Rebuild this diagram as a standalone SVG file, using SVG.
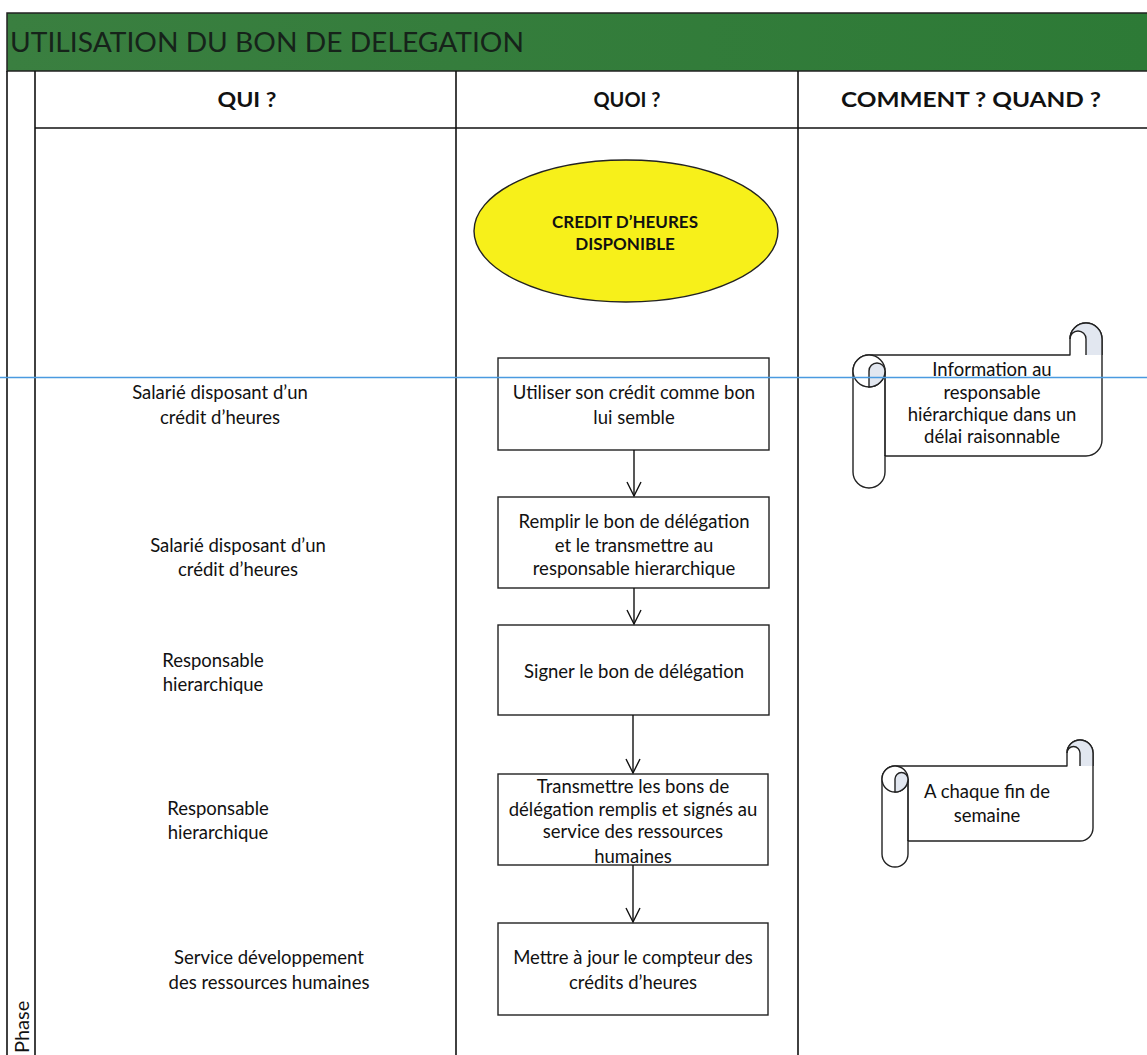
<svg xmlns="http://www.w3.org/2000/svg" width="1147" height="1055" viewBox="0 0 1147 1055">
<defs>
<linearGradient id="hdr" x1="0" y1="0" x2="1" y2="0">
<stop offset="0" stop-color="#3a7f40"/>
<stop offset="1" stop-color="#2d7a36"/>
</linearGradient>
<marker id="arr" viewBox="-16 -8 18 16" markerWidth="18" markerHeight="16" refX="0" refY="0" orient="auto" markerUnits="userSpaceOnUse">
<path d="M-14,-7 L0,0 L-14,7" fill="none" stroke="#111" stroke-width="1.4"/>
</marker>
</defs>
<style>
.t{font-family:Lato,"Open Sans","Liberation Sans",sans-serif;font-size:18.5px;fill:#111;text-anchor:middle}
.b{font-family:Lato,"Open Sans","Liberation Sans",sans-serif;font-weight:bold;fill:#111;text-anchor:middle}
.ln{stroke:#111;stroke-width:1.6;fill:none}
.box{fill:#fff;stroke:#222;stroke-width:1.4}
.scr{fill:#fff;stroke:#222;stroke-width:1.4;stroke-linejoin:round}
.shd{fill:#e2e7f0;stroke:#222;stroke-width:1.4}
.con{stroke:#111;stroke-width:1.4;fill:none;marker-end:url(#arr)}
</style>
<rect width="1147" height="1055" fill="#fff"/>

<g id="header">
<rect x="7" y="13" width="1145" height="58" fill="url(#hdr)" stroke="#222" stroke-width="1.5"/>
<text x="10" y="52" font-family="Lato,'Open Sans','Liberation Sans',sans-serif" font-size="27" fill="#16231a" textLength="514" lengthAdjust="spacingAndGlyphs">UTILISATION DU BON DE DELEGATION</text>
</g>

<g id="grid">
<line class="ln" x1="7" y1="71" x2="7" y2="1055"/>
<line class="ln" x1="35" y1="71" x2="35" y2="1055"/>
<line class="ln" x1="456" y1="71" x2="456" y2="1055"/>
<line class="ln" x1="798" y1="71" x2="798" y2="1055"/>
<line class="ln" x1="35" y1="128" x2="1147" y2="128"/>
<text class="b" x="247" y="107" font-size="20" textLength="59" lengthAdjust="spacingAndGlyphs">QUI ?</text>
<text class="b" x="627" y="107" font-size="20" textLength="67" lengthAdjust="spacingAndGlyphs">QUOI ?</text>
<text class="b" x="971" y="107" font-size="20" textLength="260" lengthAdjust="spacingAndGlyphs">COMMENT ? QUAND ?</text>
<text x="29" y="1053" font-family="Lato,'Open Sans','Liberation Sans',sans-serif" font-size="20" fill="#111" transform="rotate(-90 29 1053)">Phase</text>
</g>

<g id="who">
<text class="t" x="220" y="399">Salarié disposant d’un</text>
<text class="t" x="220" y="424">crédit d’heures</text>
<text class="t" x="238" y="552">Salarié disposant d’un</text>
<text class="t" x="238" y="576">crédit d’heures</text>
<text class="t" x="213" y="667">Responsable</text>
<text class="t" x="213" y="691">hierarchique</text>
<text class="t" x="218" y="815">Responsable</text>
<text class="t" x="218" y="839">hierarchique</text>
<text class="t" x="269" y="964">Service développement</text>
<text class="t" x="269" y="989">des ressources humaines</text>
</g>

<g id="start">
<ellipse cx="626" cy="231" rx="152" ry="71" fill="#f7f01a" stroke="#222" stroke-width="1.4"/>
<text class="b" x="625" y="228" font-size="17">CREDIT D’HEURES</text>
<text class="b" x="625" y="250" font-size="17">DISPONIBLE</text>
</g>

<g id="step1">
<rect class="box" x="498" y="358" width="271" height="92"/>
<text class="t" x="634" y="399">Utiliser son crédit comme bon</text>
<text class="t" x="634" y="424">lui semble</text>
</g>
<g id="step2">
<rect class="box" x="498" y="497" width="271" height="91"/>
<text class="t" x="634" y="528">Remplir le bon de délégation</text>
<text class="t" x="634" y="552">et le transmettre au</text>
<text class="t" x="634" y="575">responsable hierarchique</text>
</g>
<g id="step3">
<rect class="box" x="498" y="625" width="271" height="90"/>
<text class="t" x="634" y="678">Signer le bon de délégation</text>
</g>
<g id="step4">
<rect class="box" x="498" y="774" width="270" height="91"/>
<text class="t" x="633" y="793">Transmettre les bons de</text>
<text class="t" x="633" y="816">délégation remplis et signés au</text>
<text class="t" x="633" y="838">service des ressources</text>
<text class="t" x="633" y="863">humaines</text>
</g>
<g id="step5">
<rect class="box" x="498" y="923" width="270" height="92"/>
<text class="t" x="633" y="964">Mettre à jour le compteur des</text>
<text class="t" x="633" y="989">crédits d’heures</text>
</g>

<g id="connectors">
<line class="con" x1="634" y1="450" x2="634" y2="496"/>
<line class="con" x1="634" y1="588" x2="634" y2="624"/>
<line class="con" x1="633" y1="715" x2="633" y2="773"/>
<line class="con" x1="633" y1="865" x2="633" y2="922"/>
</g>

<g id="note1">
<path class="scr" d="M853,371 A16,16 0 0 1 869,355 L1070,355 L1070,339 A16,16 0 0 1 1102,339 L1102,440 A16,16 0 0 1 1086,456 L885,456 L885,472 A16,16 0 0 1 853,472 Z"/>
<line class="ln" x1="885" y1="371" x2="885" y2="456" stroke-width="1.4"/>
<circle cx="869" cy="371" r="16" fill="#fff" stroke="#222" stroke-width="1.4"/>
<path class="shd" d="M869,387 L869,371 A8,8 0 0 1 885,371 A16,16 0 0 1 869,387 Z"/>
<path class="shd" d="M1086,355 L1086,339 A8,8 0 0 0 1070,339 A16,16 0 0 1 1102,339 L1102,355"/>
<text class="t" x="992" y="376">Information au</text>
<text class="t" x="992" y="399">responsable</text>
<text class="t" x="992" y="421">hiérarchique dans un</text>
<text class="t" x="992" y="443">délai raisonnable</text>
</g>

<g id="note2">
<path class="scr" d="M882,779 A13,13 0 0 1 895,766 L1067,766 L1067,753 A13,13 0 0 1 1093,753 L1093,828 A13,13 0 0 1 1080,841 L908,841 L908,854 A13,13 0 0 1 882,854 Z"/>
<line class="ln" x1="908" y1="779" x2="908" y2="841" stroke-width="1.4"/>
<circle cx="895" cy="779" r="13" fill="#fff" stroke="#222" stroke-width="1.4"/>
<path class="shd" d="M895,792 L895,779 A6.5,6.5 0 0 1 908,779 A13,13 0 0 1 895,792 Z"/>
<path class="shd" d="M1080,766 L1080,753 A6.5,6.5 0 0 0 1067,753 A13,13 0 0 1 1093,753 L1093,766"/>
<text class="t" x="987" y="798">A chaque fin de</text>
<text class="t" x="987" y="822">semaine</text>
</g>

<line x1="0" y1="377.5" x2="1147" y2="377.5" stroke="#4a9ae0" stroke-width="1.5"/>
</svg>
